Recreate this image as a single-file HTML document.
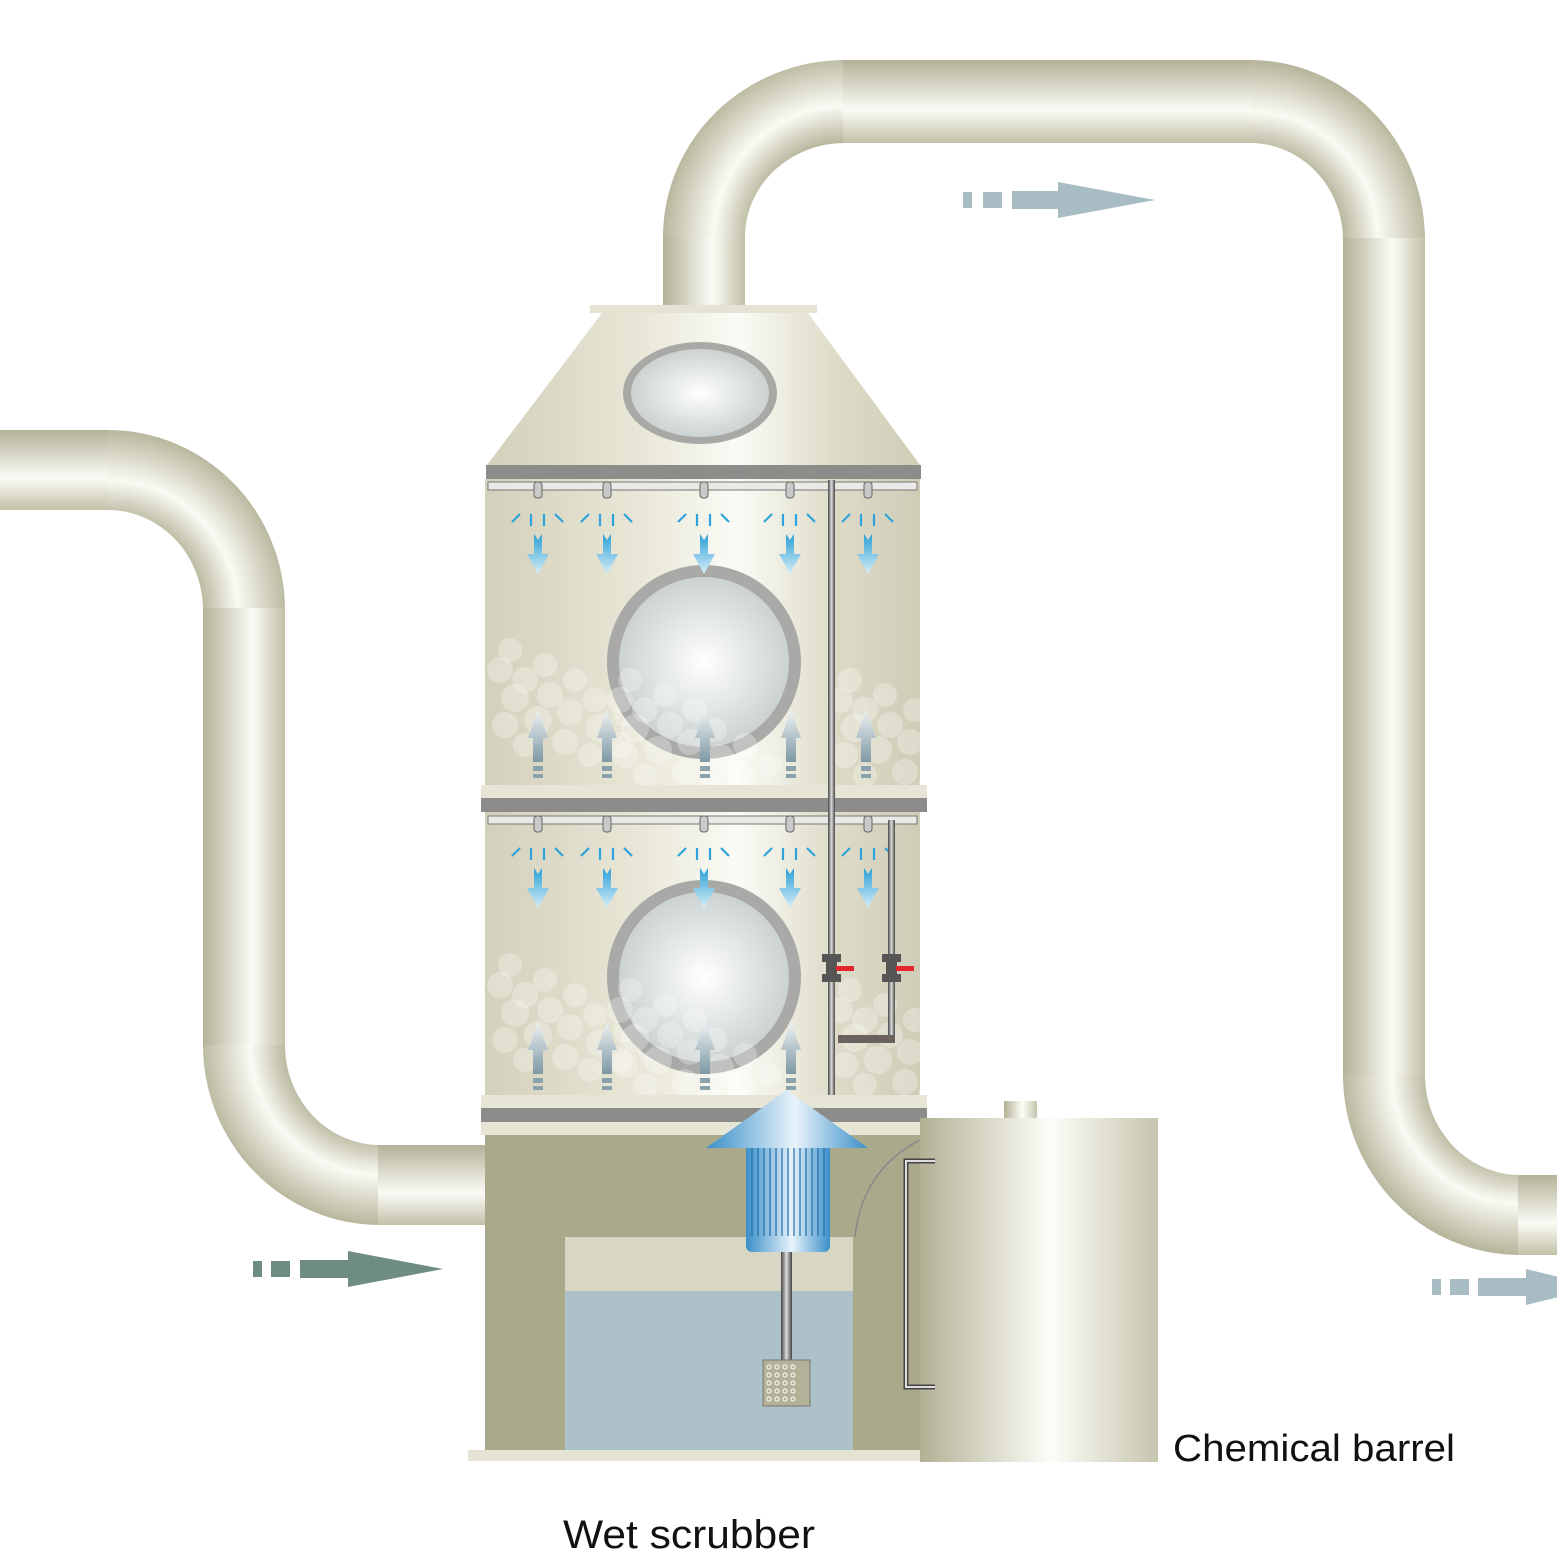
<!DOCTYPE html>
<html><head><meta charset="utf-8"><style>
html,body{margin:0;padding:0;background:#fff}
svg{display:block}
text{font-family:"Liberation Sans",sans-serif;fill:#111}
</style></head><body>
<svg width="1557" height="1557" viewBox="0 0 1557 1557" xmlns="http://www.w3.org/2000/svg">
<defs>
<linearGradient id="ph" x1="0" y1="0" x2="0" y2="1">
<stop offset="0" stop-color="#b3b298"/><stop offset="0.6" stop-color="#fbfbf6"/><stop offset="1" stop-color="#c2c1a8"/></linearGradient>
<linearGradient id="pv" x1="0" y1="0" x2="1" y2="0">
<stop offset="0" stop-color="#b3b298"/><stop offset="0.6" stop-color="#fbfbf6"/><stop offset="1" stop-color="#c2c1a8"/></linearGradient>
<radialGradient id="e1" gradientUnits="userSpaceOnUse" cx="108" cy="610" r="180"><stop offset="0.52" stop-color="#b8b79d"/><stop offset="0.72" stop-color="#fafaf4"/><stop offset="1" stop-color="#b8b79d"/></radialGradient>
<radialGradient id="e2" gradientUnits="userSpaceOnUse" cx="380" cy="1045" r="180"><stop offset="0.52" stop-color="#b8b79d"/><stop offset="0.72" stop-color="#fafaf4"/><stop offset="1" stop-color="#b8b79d"/></radialGradient>
<radialGradient id="e3" gradientUnits="userSpaceOnUse" cx="845" cy="237" r="182"><stop offset="0.52" stop-color="#b8b79d"/><stop offset="0.72" stop-color="#fafaf4"/><stop offset="1" stop-color="#b8b79d"/></radialGradient>
<radialGradient id="e4" gradientUnits="userSpaceOnUse" cx="1250" cy="240" r="178"><stop offset="0.52" stop-color="#b8b79d"/><stop offset="0.72" stop-color="#fafaf4"/><stop offset="1" stop-color="#b8b79d"/></radialGradient>
<radialGradient id="e5" gradientUnits="userSpaceOnUse" cx="1520" cy="1075" r="178"><stop offset="0.52" stop-color="#b8b79d"/><stop offset="0.72" stop-color="#fafaf4"/><stop offset="1" stop-color="#b8b79d"/></radialGradient>
<linearGradient id="body" x1="0" y1="0" x2="1" y2="0">
<stop offset="0" stop-color="#d3d1bb"/><stop offset="0.35" stop-color="#e8e6d6"/><stop offset="0.58" stop-color="#fbfbf6"/><stop offset="0.8" stop-color="#dedcc9"/><stop offset="1" stop-color="#cfcdb6"/></linearGradient>
<linearGradient id="barrel" x1="0" y1="0" x2="1" y2="0">
<stop offset="0" stop-color="#b2b195"/><stop offset="0.55" stop-color="#fdfdf8"/><stop offset="1" stop-color="#c6c5ae"/></linearGradient>
<radialGradient id="glass" cx="0.5" cy="0.5" r="0.55"><stop offset="0" stop-color="#ffffff"/><stop offset="1" stop-color="#c6cecd"/></radialGradient>
<linearGradient id="drop" x1="0" y1="0" x2="0" y2="1"><stop offset="0" stop-color="#2a9fd6"/><stop offset="1" stop-color="#d8eef8"/></linearGradient>
<linearGradient id="up" x1="0" y1="0" x2="0" y2="1"><stop offset="0" stop-color="#eef2f3"/><stop offset="1" stop-color="#7d98a4"/></linearGradient>
<linearGradient id="blue" x1="0" y1="0" x2="1" y2="0"><stop offset="0" stop-color="#3b8fc9"/><stop offset="0.55" stop-color="#e8f3fa"/><stop offset="1" stop-color="#3b8fc9"/></linearGradient>
<linearGradient id="rod" x1="0" y1="0" x2="1" y2="0"><stop offset="0" stop-color="#444"/><stop offset="0.5" stop-color="#ddd"/><stop offset="1" stop-color="#444"/></linearGradient>
<g id="nz">
<rect x="-4" y="0" width="8" height="16" rx="3" fill="#c9c9c9" stroke="#666" stroke-width="1"/>
<g stroke="#2fa4dc" stroke-width="2.2"><line x1="-26" y1="40" x2="-18" y2="32"/><line x1="-7" y1="32" x2="-7" y2="44"/><line x1="6" y1="32" x2="6" y2="44"/><line x1="17" y1="32" x2="25" y2="40"/></g>
<path d="M-4 52 L0 58 L4 52 L4 72 L11 72 L0 92 L-11 72 L-4 72Z" fill="url(#drop)"/>
</g>
<g id="ua">
<path d="M0 0 L10 28 L5 28 L5 52 L-5 52 L-5 28 L-10 28Z" fill="url(#up)"/>
<rect x="-5" y="56" width="10" height="5" fill="#8aa2ac"/><rect x="-5" y="64" width="10" height="4" fill="#8aa2ac"/>
</g>
<g id="bub" fill="#fff" fill-opacity="0.28">
<circle cx="20" cy="0" r="12"/><circle cx="10" cy="20" r="13"/><circle cx="35" cy="30" r="13"/><circle cx="55" cy="15" r="12"/><circle cx="25" cy="48" r="14"/><circle cx="60" cy="45" r="13"/><circle cx="85" cy="30" r="12"/><circle cx="48" cy="70" r="14"/><circle cx="80" cy="62" r="13"/><circle cx="105" cy="50" r="12"/><circle cx="15" cy="75" r="13"/><circle cx="110" cy="78" r="14"/><circle cx="75" cy="92" r="13"/><circle cx="35" cy="95" r="12"/><circle cx="135" cy="65" r="12"/><circle cx="130" cy="95" r="13"/><circle cx="160" cy="85" r="12"/><circle cx="100" cy="105" r="12"/>
</g>
</defs>

<rect x="0" y="430" width="110" height="80" fill="url(#ph)"/>
<path d="M108 430 A177 180 0 0 1 285 610 L203 610 A95 100 0 0 0 108 510Z" fill="url(#e1)"/>
<rect x="203" y="608" width="82" height="440" fill="url(#pv)"/>
<path d="M203 1045 L285 1045 A95 100 0 0 0 380 1145 L380 1225 A177 180 0 0 1 203 1045Z" fill="url(#e2)"/>
<rect x="378" y="1145" width="110" height="80" fill="url(#ph)"/>

<rect x="663" y="235" width="82" height="72" fill="url(#pv)"/>
<path d="M663 237 A182 177 0 0 1 845 60 L845 143 A100 94 0 0 0 745 237Z" fill="url(#e3)"/>
<rect x="843" y="60" width="410" height="83" fill="url(#ph)"/>
<path d="M1250 60 A175 180 0 0 1 1425 240 L1343 240 A93 97 0 0 0 1250 143Z" fill="url(#e4)"/>
<rect x="1343" y="238" width="82" height="840" fill="url(#pv)"/>
<path d="M1343 1075 L1425 1075 A95 100 0 0 0 1520 1175 L1520 1255 A177 180 0 0 1 1343 1075Z" fill="url(#e5)"/>
<rect x="1518" y="1175" width="39" height="80" fill="url(#ph)"/>

<rect x="590" y="305" width="227" height="8" fill="#e4e3d4"/>
<path d="M602 313 L808 313 L920 465 L487 465Z" fill="url(#body)"/>
<ellipse cx="700" cy="393" rx="77" ry="51" fill="#a8a8a5"/>
<ellipse cx="700" cy="393" rx="69" ry="44" fill="url(#glass)"/>
<rect x="486" y="465" width="435" height="14" fill="#8c8c8a"/>

<rect x="485" y="479" width="435" height="307" fill="url(#body)"/>
<rect x="488" y="482" width="429" height="8" fill="#e9e9e6" stroke="#777" stroke-width="1"/>
<use href="#bub" x="490" y="650"/>
<use href="#bub" x="830" y="680"/>
<circle cx="704" cy="662" r="97" fill="#a9a9a7"/>
<circle cx="704" cy="662" r="85" fill="url(#glass)"/>
<use href="#bub" x="610" y="680"/>
<use href="#nz" x="538" y="482"/><use href="#nz" x="607" y="482"/><use href="#nz" x="704" y="482"/><use href="#nz" x="790" y="482"/><use href="#nz" x="868" y="482"/>
<use href="#ua" x="538" y="710"/><use href="#ua" x="607" y="710"/><use href="#ua" x="705" y="710"/><use href="#ua" x="791" y="710"/><use href="#ua" x="866" y="710"/>

<rect x="481" y="785" width="446" height="13" fill="#e6e5d6"/>
<rect x="481" y="798" width="446" height="14" fill="#8c8c8a"/>

<rect x="485" y="812" width="435" height="284" fill="url(#body)"/>
<rect x="488" y="816" width="429" height="8" fill="#e9e9e6" stroke="#777" stroke-width="1"/>
<use href="#bub" x="490" y="965"/>
<use href="#bub" x="830" y="990"/>
<circle cx="704" cy="977" r="97" fill="#a9a9a7"/>
<circle cx="704" cy="977" r="85" fill="url(#glass)"/>
<use href="#bub" x="610" y="990"/>
<use href="#nz" x="538" y="816"/><use href="#nz" x="607" y="816"/><use href="#nz" x="704" y="816"/><use href="#nz" x="790" y="816"/><use href="#nz" x="868" y="816"/>
<use href="#ua" x="538" y="1022"/><use href="#ua" x="607" y="1022"/><use href="#ua" x="705" y="1022"/><use href="#ua" x="791" y="1022"/>

<rect x="828" y="480" width="7" height="640" fill="url(#rod)"/>
<rect x="888" y="820" width="7" height="222" fill="url(#rod)"/>
<rect x="838" y="1035" width="57" height="8" fill="#6b625e"/>
<g fill="#555"><rect x="822" y="954" width="19" height="8"/><rect x="826" y="962" width="11" height="12"/><rect x="822" y="974" width="19" height="8"/>
<rect x="882" y="954" width="19" height="8"/><rect x="886" y="962" width="11" height="12"/><rect x="882" y="974" width="19" height="8"/></g>
<rect x="836" y="966" width="18" height="5" fill="#e3262b"/><rect x="896" y="966" width="18" height="5" fill="#e3262b"/>

<rect x="481" y="1095" width="446" height="13" fill="#e6e5d6"/>
<rect x="481" y="1108" width="446" height="14" fill="#8c8c8a"/>
<rect x="481" y="1122" width="446" height="13" fill="#e6e5d6"/>

<rect x="485" y="1135" width="435" height="316" fill="#aaa98c"/>
<rect x="565" y="1237" width="288" height="54" fill="#d8d7c5"/>
<rect x="565" y="1291" width="288" height="160" fill="#adc1c9"/>
<rect x="468" y="1450" width="452" height="11" fill="#e4e3d4"/>
<path d="M855 1237 Q862 1170 920 1140" fill="none" stroke="#888" stroke-width="1.5"/>

<rect x="781" y="1250" width="11" height="112" fill="url(#rod)"/>
<rect x="763" y="1360" width="47" height="46" fill="#b3b198" stroke="#777"/>
<g fill="none" stroke="#fff" stroke-width="1"><circle cx="769" cy="1367" r="2"/><circle cx="777" cy="1367" r="2"/><circle cx="785" cy="1367" r="2"/><circle cx="793" cy="1367" r="2"/><circle cx="769" cy="1375" r="2"/><circle cx="777" cy="1375" r="2"/><circle cx="785" cy="1375" r="2"/><circle cx="793" cy="1375" r="2"/><circle cx="769" cy="1383" r="2"/><circle cx="777" cy="1383" r="2"/><circle cx="785" cy="1383" r="2"/><circle cx="793" cy="1383" r="2"/><circle cx="769" cy="1391" r="2"/><circle cx="777" cy="1391" r="2"/><circle cx="785" cy="1391" r="2"/><circle cx="793" cy="1391" r="2"/><circle cx="769" cy="1399" r="2"/><circle cx="777" cy="1399" r="2"/><circle cx="785" cy="1399" r="2"/><circle cx="793" cy="1399" r="2"/></g>
<rect x="746" y="1232" width="84" height="20" rx="6" fill="url(#blue)"/>
<rect x="746" y="1148" width="84" height="88" fill="url(#blue)"/>
<g stroke="#1f6fa8" stroke-width="1.2"><line x1="752" y1="1148" x2="752" y2="1236"/><line x1="758" y1="1148" x2="758" y2="1236"/><line x1="764" y1="1148" x2="764" y2="1236"/><line x1="770" y1="1148" x2="770" y2="1236"/><line x1="776" y1="1148" x2="776" y2="1236"/><line x1="782" y1="1148" x2="782" y2="1236"/><line x1="788" y1="1148" x2="788" y2="1236"/><line x1="794" y1="1148" x2="794" y2="1236"/><line x1="800" y1="1148" x2="800" y2="1236"/><line x1="806" y1="1148" x2="806" y2="1236"/><line x1="812" y1="1148" x2="812" y2="1236"/><line x1="818" y1="1148" x2="818" y2="1236"/><line x1="824" y1="1148" x2="824" y2="1236"/></g>
<path d="M787 1090 L868 1148 L706 1148Z" fill="url(#blue)"/>

<rect x="1004" y="1101" width="33" height="18" fill="url(#barrel)"/>
<rect x="920" y="1118" width="238" height="344" fill="url(#barrel)"/>
<path d="M935 1161 L906 1161 L906 1387 L935 1387" fill="none" stroke="#444" stroke-width="5"/>
<path d="M935 1161 L906 1161 L906 1387 L935 1387" fill="none" stroke="#ddd" stroke-width="2"/>

<g fill="#6f8c83"><rect x="253" y="1261" width="9" height="16"/><rect x="271" y="1261" width="19" height="16"/><rect x="300" y="1260" width="52" height="18"/><path d="M348 1251 L443 1269 L348 1287Z"/></g>
<g fill="#a8bcc4"><rect x="963" y="192" width="9" height="16"/><rect x="983" y="192" width="19" height="16"/><rect x="1012" y="191" width="50" height="18"/><path d="M1058 182 L1155 200 L1058 218Z"/></g>
<g fill="#a8bcc4"><rect x="1432" y="1279" width="9" height="16"/><rect x="1450" y="1279" width="19" height="16"/><rect x="1478" y="1278" width="52" height="18"/><path d="M1526 1269 L1600 1287 L1526 1305Z"/></g>

<text x="1173" y="1461" font-size="38" textLength="282" lengthAdjust="spacingAndGlyphs">Chemical barrel</text>
<text x="563" y="1548" font-size="40" textLength="252" lengthAdjust="spacingAndGlyphs">Wet scrubber</text>
</svg>
</body></html>
